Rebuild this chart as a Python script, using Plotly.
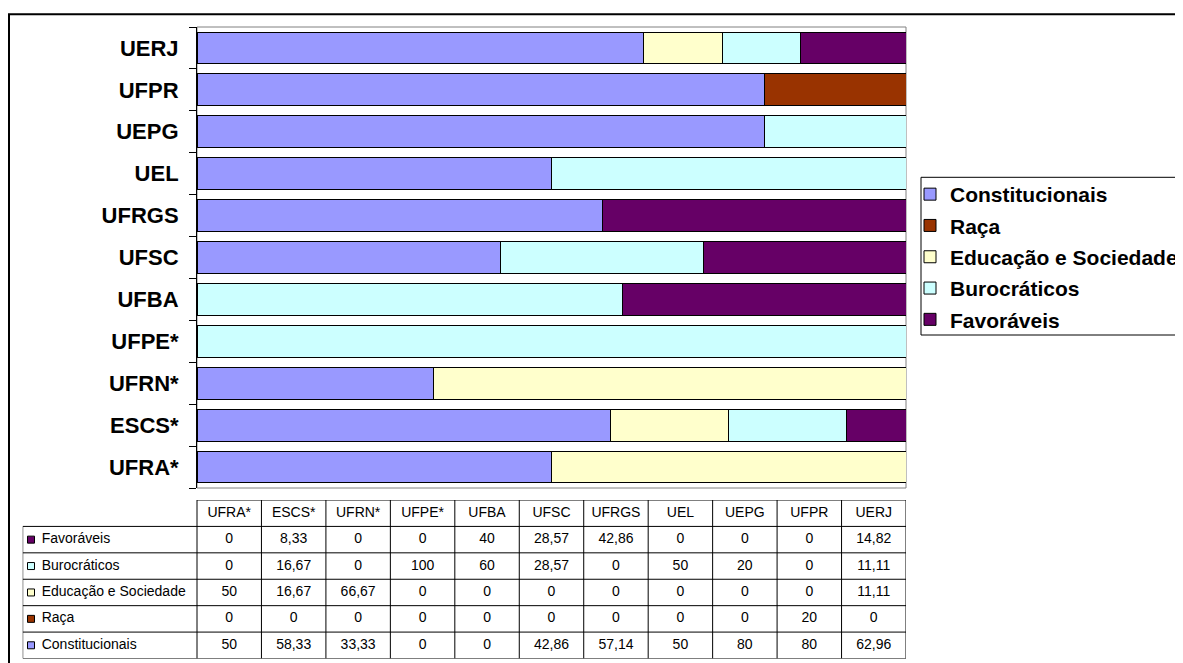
import plotly.graph_objects as go

# ---------------- data ----------------
categories = ["UFRA*", "ESCS*", "UFRN*", "UFPE*", "UFBA", "UFSC", "UFRGS", "UEL", "UEPG", "UFPR", "UERJ"]

constitucionais = [50, 58.33, 33.33, 0, 0, 42.86, 57.14, 50, 80, 80, 62.96]
raca = [0, 0, 0, 0, 0, 0, 0, 0, 0, 20, 0]
educacao = [50, 16.67, 66.67, 0, 0, 0, 0, 0, 0, 0, 11.11]
burocraticos = [0, 16.67, 0, 100, 60, 28.57, 0, 50, 20, 0, 11.11]
favoraveis = [0, 8.33, 0, 0, 40, 28.57, 42.86, 0, 0, 0, 14.82]

series_names = ["Constitucionais", "Raça", "Educação e Sociedade", "Burocráticos", "Favoráveis"]
series_values = [constitucionais, raca, educacao, burocraticos, favoraveis]
series_colors = ["#9999FF", "#993300", "#FFFFCC", "#CCFFFF", "#660066"]

# table row order, top to bottom
table_order = ["Favoráveis", "Burocráticos", "Educação e Sociedade", "Raça", "Constitucionais"]

# ---------------- geometry (screen pixels; page has an 8px body margin) ----------------
OFF = 8
W, H = 1183 - OFF, 663 - OFF


def sx(x):
    return (x - OFF) / W


def sy(y):
    return 1 - (y - OFF) / H


px_plot_l, px_plot_r = 197, 906
px_plot_t, px_plot_b = 27, 488
px_tab_l = 22.7
px_tab_t, px_tab_b = 500, 658.5
FONT = "Liberation Sans"

col_w = (px_plot_r - px_plot_l) / len(categories)
lab_w = (px_plot_l - px_tab_l) / col_w   # label column width in column units
n_rows = len(table_order)


def fmt(v):
    return f"{v:g}".replace(".", ",")


fig = go.Figure()

# ---------------- stacked bars ----------------
for name, vals, col in zip(series_names, series_values, series_colors):
    fig.add_trace(go.Bar(
        y=categories, x=vals, name=name, orientation="h",
        marker=dict(color=col, line=dict(color="black", width=1)),
        width=0.76, legendgroup=name,
        xaxis="x", yaxis="y",
    ))

# ---------------- data table ----------------
name_to_vals = dict(zip(series_names, series_values))
name_to_col = dict(zip(series_names, series_colors))

cell_x, cell_y, cell_t = [], [], []
for r, name in enumerate(table_order):
    yrow = n_rows - 1 - r + 0.5
    for c, v in enumerate(name_to_vals[name]):
        cell_x.append(c + 0.5)
        cell_y.append(yrow)
        cell_t.append(fmt(v))
fig.add_trace(go.Scatter(
    x=cell_x, y=cell_y, text=cell_t, mode="text",
    textfont=dict(family=FONT, size=14, color="black"),
    xaxis="x2", yaxis="y2", showlegend=False, hoverinfo="skip",
))
# header
fig.add_trace(go.Scatter(
    x=[c + 0.5 for c in range(len(categories))], y=[n_rows + 0.5] * len(categories),
    text=categories, mode="text",
    textfont=dict(family=FONT, size=14, color="black"),
    xaxis="x2", yaxis="y2", showlegend=False, hoverinfo="skip",
))
# row labels with legend keys
mk_x = -lab_w + (31 - px_tab_l) / col_w
txt_x = -lab_w + (41.7 - px_tab_l) / col_w
row_y = [n_rows - 1 - r + 0.5 for r in range(n_rows)]
fig.add_trace(go.Scatter(
    x=[mk_x] * n_rows, y=row_y, mode="markers",
    marker=dict(symbol="square", size=7, color=[name_to_col[n] for n in table_order],
                line=dict(color="black", width=1)),
    xaxis="x2", yaxis="y2", showlegend=False, hoverinfo="skip",
))
fig.add_trace(go.Scatter(
    x=[txt_x] * n_rows, y=row_y, text=table_order, mode="text", textposition="middle right",
    textfont=dict(family=FONT, size=14, color="black"),
    xaxis="x2", yaxis="y2", showlegend=False, hoverinfo="skip",
))

shapes = []
line = dict(color="black", width=1)
# horizontal grid lines
for k in range(n_rows + 1):
    shapes.append(dict(type="line", xref="x2", yref="y2", x0=-lab_w, x1=len(categories), y0=k, y1=k, line=line))
shapes.append(dict(type="line", xref="x2", yref="y2", x0=0, x1=len(categories), y0=n_rows + 1, y1=n_rows + 1, line=line))
# vertical grid lines
shapes.append(dict(type="line", xref="x2", yref="y2", x0=-lab_w, x1=-lab_w, y0=0, y1=n_rows, line=line))
for c in range(len(categories) + 1):
    shapes.append(dict(type="line", xref="x2", yref="y2", x0=c, x1=c, y0=0, y1=n_rows + 1, line=line))

# plot-area box
shapes.append(dict(type="rect", xref="x domain", yref="y domain", x0=0, x1=1, y0=0, y1=1,
                   line=dict(color="#808080", width=1), layer="below"))
# legend box
shapes.append(dict(type="rect", xref="paper", yref="paper", x0=sx(921), x1=1.01, y0=sy(335), y1=sy(177.3),
                   line=dict(color="black", width=1)))
# outer chart border
shapes.append(dict(type="rect", xref="paper", yref="paper", x0=sx(9), x1=1.01, y0=-0.02, y1=sy(14.2),
                   line=dict(color="black", width=2)))

fig.update_layout(
    width=W, height=H,
    margin=dict(l=0, r=0, t=0, b=0, autoexpand=False),
    paper_bgcolor="white", plot_bgcolor="white",
    barmode="stack",
    showlegend=True,
    font=dict(family=FONT, color="black"),
    xaxis=dict(domain=[sx(px_plot_l), sx(px_plot_r)], range=[0, 100], showticklabels=False,
               showgrid=False, zeroline=False, showline=False, fixedrange=True),
    yaxis=dict(domain=[sy(px_plot_b), sy(px_plot_t)], type="category",
               categoryorder="array", categoryarray=categories,
               range=[-0.5, len(categories) - 0.5],
               showline=True, linecolor="black", linewidth=1,
               ticks="outside", ticklen=7, tickcolor="black", tickson="boundaries",
               ticklabelstandoff=13,
               tickfont=dict(family=FONT, size=22, color="black", weight="bold"),
               showgrid=False, zeroline=False, fixedrange=True),
    xaxis2=dict(domain=[sx(px_tab_l), sx(px_plot_r)], range=[-lab_w, len(categories)],
                visible=False, fixedrange=True),
    yaxis2=dict(domain=[sy(px_tab_b), sy(px_tab_t)], range=[0, n_rows + 1],
                visible=False, fixedrange=True),
    legend=dict(x=sx(910), xanchor="left", y=sy(174), yanchor="top",
                borderwidth=0, bgcolor="rgba(0,0,0,0)",
                font=dict(family=FONT, size=21, color="black", weight="bold"),
                traceorder="grouped", tracegroupgap=1, itemwidth=30),
    shapes=shapes,
)

fig.write_html("out.html")
